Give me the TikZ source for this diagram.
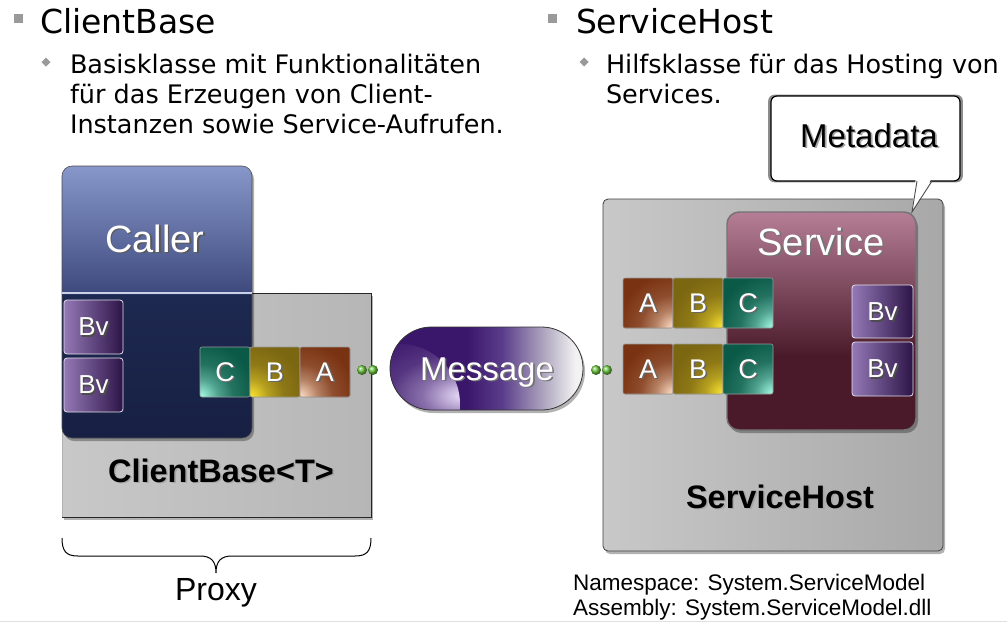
\documentclass[tikz,border=0pt]{standalone}
\usepackage{fontspec}
\setmainfont{Liberation Sans}
\newfontfamily\verd{DejaVu Sans}
\usetikzlibrary{shapes.misc,shapes.geometric,shadows,calc}

\definecolor{calT}{HTML}{8797C9}
\definecolor{calM}{HTML}{3E4A7E}
\definecolor{calD1}{HTML}{1E2951}
\definecolor{calD2}{HTML}{172043}
\definecolor{grayL}{HTML}{C8C8C8}
\definecolor{grayR}{HTML}{B6B6B6}
\definecolor{hostL}{HTML}{C8C8C8}
\definecolor{hostR}{HTML}{A8A8A8}
\definecolor{bvL}{HTML}{9479B6}
\definecolor{bvR}{HTML}{2D1447}
\definecolor{cBase}{HTML}{0B5A48}
\definecolor{cHi}{HTML}{A8FFE8}
\definecolor{bBase}{HTML}{7B6612}
\definecolor{bHi}{HTML}{FFE830}
\definecolor{aBase}{HTML}{7A3312}
\definecolor{aHi}{HTML}{FFE0C8}
\definecolor{msgD}{HTML}{3B176B}
\definecolor{msgM}{HTML}{5A3C8A}
\definecolor{msgG}{HTML}{B0A8C0}
\definecolor{msgL}{HTML}{F2F2F2}
\definecolor{msgHi}{HTML}{E8DCF8}
\definecolor{svcT}{HTML}{B57E96}
\definecolor{svcB}{HTML}{4A1A2A}
\definecolor{dotG}{HTML}{6CC840}
\definecolor{bulletG}{HTML}{9A9A9A}
\colorlet{hiC}{white}
\colorlet{baseC}{black}

\pgfdeclareverticalshading{callershade}{100bp}{color(0bp)=(calD2); color(25bp)=(calD2); color(51.4bp)=(calD1); color(51.6bp)=(calM); color(75bp)=(calT); color(100bp)=(calT)}
\pgfdeclareverticalshading{svcshade}{100bp}{color(0bp)=(svcB); color(25bp)=(svcB); color(42bp)=(svcB); color(75bp)=(svcT); color(100bp)=(svcT)}
\pgfdeclarehorizontalshading{msgshade}{100bp}{color(0bp)=(msgD); color(25bp)=(msgD); color(45bp)=(msgD); color(54bp)=(msgM); color(65bp)=(msgG); color(73bp)=(msgL); color(100bp)=(msgL)}
\pgfdeclareradialshading[hiC,baseC]{cornerglow}{\pgfpointorigin}{color(0bp)=(hiC); color(3bp)=(hiC!80!baseC); color(8bp)=(hiC!45!baseC); color(15bp)=(hiC!15!baseC); color(25bp)=(baseC); color(50bp)=(baseC)}

\newcommand\shtxt[3]{\rlap{\smash{\hspace{1.6pt}\raisebox{-1.6pt}{\textcolor{#2}{#3}}}}\textcolor{#1}{#3}}

\begin{document}
\begin{tikzpicture}[x=1pt,y=-1pt,
  every node/.style={inner sep=0pt, outer sep=0pt},
  myshadow/.style={drop shadow={shadow xshift=2pt, shadow yshift=-3pt, opacity=0.3, fill=black}},
  titletxt/.style={font=\verd\fontsize{33}{40}\selectfont, anchor=base west},
  bodytxt/.style={font=\verd\fontsize{25.5}{30}\selectfont, anchor=base west},
  sqbullet/.style={fill=bulletG, minimum size=9},
  dmbullet/.style={diamond, fill=bulletG, minimum size=9},
  graybox/.style={myshadow, left color=grayL, right color=grayR, anchor=north west},
  hostbox/.style={myshadow, left color=hostL, right color=hostR, draw=black!75, line width=0.8, rounded corners=5, anchor=north west},
  callerbox/.style={myshadow, shading=callershade, draw=black!70, line width=0.6, rounded corners=10, anchor=north west},
  svcbox/.style={myshadow, shading=svcshade, draw=black!55, line width=1.4, rounded corners=12, anchor=north west},
  bvbox/.style={left color=bvL, right color=bvR, draw=white!75!bvL, line width=0.8, rounded corners=3, anchor=north west, font=\fontsize{26}{30}\selectfont},
  blk/.style={minimum width=50, minimum height=50, rounded corners=2, draw=black!40, line width=0.6, anchor=north west, font=\fontsize{27}{30}\selectfont},
  lblk/.style n args={3}{blk, fill=#1, path picture={\colorlet{hiC}{#2}\colorlet{baseC}{#1}\shade[shading=cornerglow] ($(path picture bounding box.#3)+(0,0)$) circle (55);}},
  gdot/.style={circle, minimum size=10, ball color=dotG},
  msgbox/.style={myshadow, rounded rectangle, minimum width=193, minimum height=83, shading=msgshade, draw=black!80, line width=0.8,
     path picture={\colorlet{hiC}{msgHi}\colorlet{baseC}{msgD}\shade[shading=cornerglow] ($(path picture bounding box.south west)+(10,-6)$) circle (60);}},
  bigw/.style={font=\fontsize{38}{42}\selectfont, anchor=base},
  midw/.style={font=\fontsize{33}{38}\selectfont, anchor=base},
  boldlbl/.style={font=\bfseries\fontsize{32.5}{38}\selectfont, anchor=base},
  smalltxt/.style={font=\fontsize{22.5}{26}\selectfont, anchor=base west}
]
\useasboundingbox (0,0) rectangle (1007,625);
\fill[white] (0,0) rectangle (1007,625);
\draw[black!12, line width=1.2] (0,621.5) -- (1007,621.5);

% ---- top texts
\node[sqbullet] (bq1) at (18.5,18.5) {};
\node[titletxt] (t1) at (40,33) {ClientBase};
\node[dmbullet] (bd1) at (46,62) {};
\node[bodytxt] (l1) at (70,73) {Basisklasse mit Funktionalitäten};
\node[bodytxt] (l2) at (70,103) {für das Erzeugen von Client-};
\node[bodytxt] (l3) at (70,133) {Instanzen sowie Service-Aufrufen.};

\node[sqbullet] (bq2) at (552.5,18.5) {};
\node[titletxt] (t2) at (576,33) {ServiceHost};
\node[dmbullet] (bd2) at (584,62) {};
\node[bodytxt] (r1) at (606,73) {Hilfsklasse für das Hosting von};
\node[bodytxt] (r2) at (606,103) {Services.};

% ---- client side
\node[graybox, minimum width=309, minimum height=224] (cb) at (62,293) {};
\draw[black!30, line width=0.8] (cb.south west) -- (cb.north west);
\draw[black!85, line width=0.9] (cb.north west) -- (cb.north east) -- (cb.south east) -- (cb.south west);
\node[callerbox, minimum width=190, minimum height=272] (caller) at (62,166) {};
\draw[white!55!calT, line width=1.2] (caller.west |- cb.north) -- (caller.east |- cb.north);
\node[bigw] (callerlbl) at (155,252) {\shtxt{white}{black!65}{Caller}};

\node[bvbox, minimum width=59, minimum height=54] (bv1) at (64,300) {\shtxt{white}{black!70}{Bv}};
\node[bvbox, minimum width=59, minimum height=54] (bv2) at (64,358) {\shtxt{white}{black!70}{Bv}};

\node[lblk={cBase}{cHi}{south west}] (lc) at (200,347) {\shtxt{white}{black!60}{C}};
\node[lblk={bBase}{bHi}{south west}] (lb) at (250,347) {\shtxt{white}{black!60}{B}};
\node[lblk={aBase}{aHi}{south west}] (la) at (300,347) {\shtxt{white}{black!60}{A}};

\node[boldlbl] (cblbl) at (221,482) {\shtxt{black}{black!35}{ClientBase<T>}};

\draw[black, line width=1] (62,538) .. controls (62,551) and (66,556) .. (78,556) -- (200,556)
   .. controls (211,556) and (216,561) .. (216,573) .. controls (216,561) and (221,556) .. (232,556)
   -- (355,556) .. controls (367,556) and (371,551) .. (371,538);
\node[font=\fontsize{32}{36}\selectfont, anchor=base] (proxy) at (216,600) {Proxy};

% ---- message
\node[msgbox] (msg) at (486.5,368.5) {};
\node[midw] (msglbl) at (487,380) {\shtxt{white}{black!55}{Message}};

% ---- service side
\node[hostbox, minimum width=340, minimum height=352] (host) at (603,199) {};
\node[svcbox, minimum width=189, minimum height=218] (svc) at (727,212) {};
\node[bigw] (svclbl) at (821,255) {\shtxt{white}{black!55}{Service}};

\node[lblk={aBase}{aHi}{south east}] (ra1) at (623,278) {\shtxt{white}{black!60}{A}};
\node[lblk={bBase}{bHi}{south east}] (rb1) at (673,278) {\shtxt{white}{black!60}{B}};
\node[lblk={cBase}{cHi}{south east}] (rc1) at (723,278) {\shtxt{white}{black!60}{C}};
\node[lblk={aBase}{aHi}{south east}] (ra2) at (623,344) {\shtxt{white}{black!60}{A}};
\node[lblk={bBase}{bHi}{south east}] (rb2) at (673,344) {\shtxt{white}{black!60}{B}};
\node[lblk={cBase}{cHi}{south east}] (rc2) at (723,344) {\shtxt{white}{black!60}{C}};

\node[bvbox, minimum width=61, minimum height=53] (sbv1) at (852,285) {\shtxt{white}{black!70}{Bv}};
\node[bvbox, minimum width=61, minimum height=54] (sbv2) at (852,342) {\shtxt{white}{black!70}{Bv}};

\node[boldlbl] (hostlbl) at (780,508) {\shtxt{black}{black!35}{ServiceHost}};

% ---- green dots
\node[gdot] (d1) at (362,370) {};
\node[gdot] (d2) at (373,370) {};
\node[gdot] (d3) at (596,370) {};
\node[gdot] (d4) at (607,370) {};

% ---- metadata callout
\node[draw=black, line width=1.2, fill=white, rounded corners=6, minimum width=189, minimum height=85,
      drop shadow={shadow xshift=0pt, shadow yshift=0pt, shadow scale=1.03, opacity=0.45, fill=black}] (meta) at (865.5,138.5) {};
\coordinate (mdtip) at (912,212);
\fill[white] (916,176) -- (mdtip) -- (933,176) -- cycle;
\draw[black!70, line width=0.9] (917,181) -- (mdtip) -- (932,181);
\node[midw] (metalbl) at (869,147) {\shtxt{black}{black!35}{Metadata}};

% ---- footer text
\node[smalltxt] (ns) at (573,590) {Namespace: System.ServiceModel};
\node[smalltxt] (asm) at (573,615) {Assembly: System.ServiceModel.dll};
\end{tikzpicture}
\end{document}
